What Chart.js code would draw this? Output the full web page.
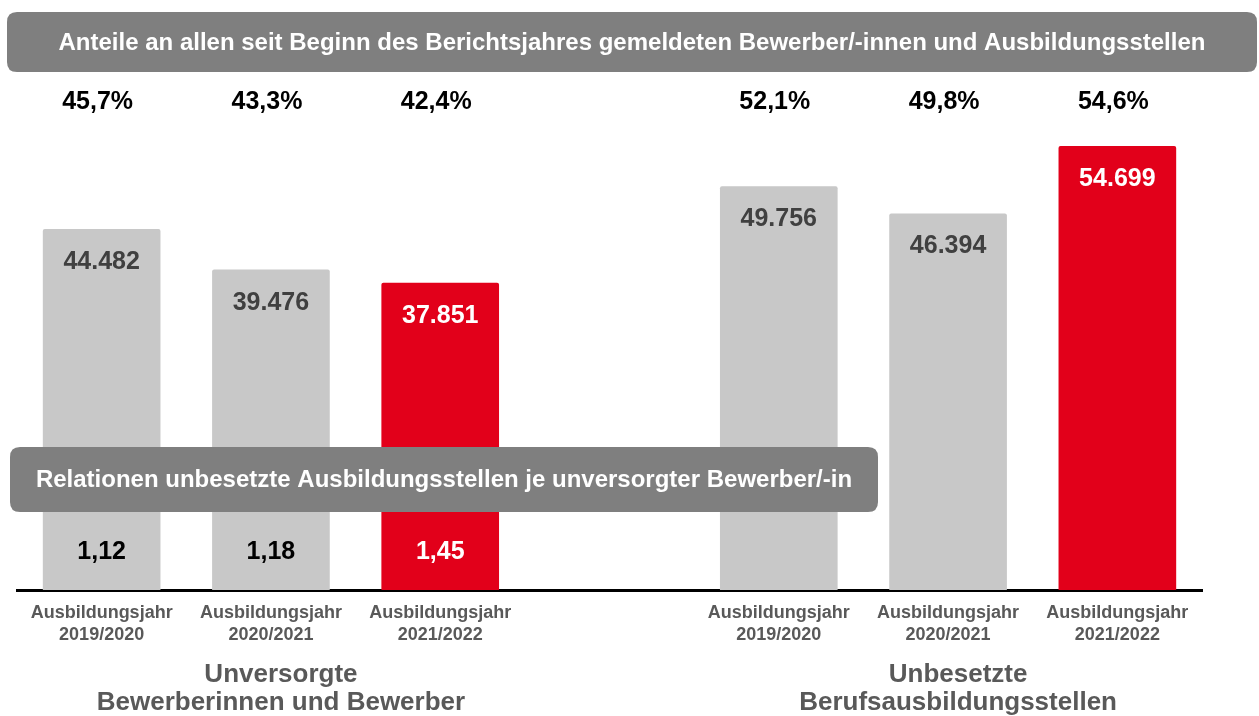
<!DOCTYPE html>
<html lang="de">
<head>
<meta charset="utf-8">
<title>Unversorgte Bewerber und unbesetzte Ausbildungsstellen</title>
<script src="https://cdn.jsdelivr.net/npm/chart.js@4.4.1/dist/chart.umd.min.js"></script>
<style>
    html, body { margin: 0; padding: 0; background: #ffffff; }
    .chart-wrapper { position: relative; width: 1259px; height: 716px; }
</style>
</head>
<body>
<div class="chart-wrapper">
    <canvas id="ausbildungChart"></canvas>
</div>
<script>
/* ==========================================================================
   Daten
   ========================================================================== */

// Kategorien (die leere Mitte trennt die beiden Gruppen)
const categories = [
    ['Ausbildungsjahr', '2019/2020'],
    ['Ausbildungsjahr', '2020/2021'],
    ['Ausbildungsjahr', '2021/2022'],
    '',
    ['Ausbildungsjahr', '2019/2020'],
    ['Ausbildungsjahr', '2020/2021'],
    ['Ausbildungsjahr', '2021/2022']
];

// Anzahl unversorgter Bewerber/-innen bzw. unbesetzter Stellen
const counts = [44482, 39476, 37851, null, 49756, 46394, 54699];

// Anteile an allen gemeldeten Bewerber/-innen bzw. Stellen
const shares = ['45,7%', '43,3%', '42,4%', null, '52,1%', '49,8%', '54,6%'];

// Relation unbesetzte Stellen je unversorgter Bewerber/-in
const ratios = ['1,12', '1,18', '1,45', null, null, null, null];

// aktuelles Jahr wird rot hervorgehoben
const highlighted = [false, false, true, false, false, false, true];

// Gruppenbeschriftungen: [Text, erster Index, letzter Index]
const groupLabels = [
    [['Unversorgte', 'Bewerberinnen und Bewerber'], 0, 2],
    [['Unbesetzte', 'Berufsausbildungsstellen'], 4, 6]
];

const topBannerText = 'Anteile an allen seit Beginn des Berichtsjahres gemeldeten Bewerber/-innen und Ausbildungsstellen';
const midBannerText = 'Relationen unbesetzte Ausbildungsstellen je unversorgter Bewerber/-in';

/* ==========================================================================
   Farben & Schrift
   ========================================================================== */

const FONT = '"Liberation Sans", Arial, sans-serif';
const GREY_BAR = '#c8c8c8';
const RED_BAR = '#e2001a';
const BANNER = '#7f7f7f';

function formatNumber(v) {
    return String(v).replace(/\B(?=(\d{3})+(?!\d))/g, '.');
}

function roundRect(ctx, x, y, w, h, r) {
    ctx.beginPath();
    ctx.moveTo(x + r, y);
    ctx.lineTo(x + w - r, y);
    ctx.quadraticCurveTo(x + w, y, x + w, y + r);
    ctx.lineTo(x + w, y + h - r);
    ctx.quadraticCurveTo(x + w, y + h, x + w - r, y + h);
    ctx.lineTo(x + r, y + h);
    ctx.quadraticCurveTo(x, y + h, x, y + h - r);
    ctx.lineTo(x, y + r);
    ctx.quadraticCurveTo(x, y, x + r, y);
    ctx.closePath();
}

function drawBanner(ctx, x, y, w, h, text, size) {
    ctx.save();
    ctx.fillStyle = BANNER;
    roundRect(ctx, x, y, w, h, 10);
    ctx.fill();
    ctx.fillStyle = '#ffffff';
    ctx.font = 'bold ' + size + 'px ' + FONT;
    ctx.textAlign = 'center';
    ctx.textBaseline = 'middle';
    ctx.fillText(text, x + w / 2, y + h / 2 + 1);
    ctx.restore();
}

/* ==========================================================================
   Beschriftungs-Plugin
   ========================================================================== */

const labelPlugin = {
    id: 'labelPlugin',
    afterDatasetsDraw(chart) {
        const ctx = chart.ctx;
        const bars = chart.getDatasetMeta(0).data;
        const base = chart.scales.y.getPixelForValue(0);

        // oberes Banner
        drawBanner(ctx, 7, 12, 1250, 60, topBannerText, 24);

        ctx.save();
        ctx.textAlign = 'center';
        ctx.textBaseline = 'alphabetic';

        // Anteile oberhalb
        ctx.font = 'bold 25px ' + FONT;
        ctx.fillStyle = '#000000';
        shares.forEach((s, i) => {
            if (s === null) return;
            ctx.fillText(s, bars[i].x - 4, 109);
        });

        // Werte in den Balken
        ctx.font = 'bold 25px ' + FONT;
        counts.forEach((v, i) => {
            if (v === null) return;
            ctx.fillStyle = highlighted[i] ? '#ffffff' : '#404040';
            ctx.fillText(formatNumber(v), bars[i].x, bars[i].y + 40);
        });
        ctx.restore();

        // mittleres Banner über den Balken
        drawBanner(ctx, 10, 447, 868, 65, midBannerText, 24);

        ctx.save();
        ctx.textAlign = 'center';
        ctx.textBaseline = 'alphabetic';
        ctx.font = 'bold 25px ' + FONT;
        ratios.forEach((r, i) => {
            if (r === null) return;
            ctx.fillStyle = highlighted[i] ? '#ffffff' : '#000000';
            ctx.fillText(r, bars[i].x, base - 31);
        });

        // Gruppenbeschriftungen unten
        ctx.font = 'bold 26px ' + FONT;
        ctx.fillStyle = '#595959';
        groupLabels.forEach(([lines, from, to]) => {
            const cx = (bars[from].x + bars[to].x) / 2 + 10;
            lines.forEach((line, k) => {
                ctx.fillText(line, cx, 682 + k * 28);
            });
        });
        ctx.restore();
    }
};

/* ==========================================================================
   Diagramm
   ========================================================================== */

document.addEventListener('DOMContentLoaded', function() {
    const ctx = document.getElementById('ausbildungChart');

    new Chart(ctx.getContext('2d'), {
        type: 'bar',
        data: {
            labels: categories,
            datasets: [{
                data: counts,
                backgroundColor: highlighted.map(h => h ? RED_BAR : GREY_BAR),
                borderRadius: { topLeft: 2, topRight: 2 },
                borderSkipped: 'bottom',
                categoryPercentage: 1.0,
                barPercentage: 0.695
            }]
        },
        options: {
            responsive: true,
            maintainAspectRatio: false,
            animation: false,
            layout: {
                padding: { top: 103, left: 17, right: 57, bottom: 0 }
            },
            plugins: {
                legend: { display: false },
                tooltip: { enabled: false }
            },
            scales: {
                y: {
                    display: false,
                    min: 0,
                    max: 60000
                },
                x: {
                    z: 1,
                    grid: { display: false, drawTicks: false },
                    border: { display: true, color: '#000000', width: 3 },
                    ticks: {
                        color: '#595959',
                        autoSkip: false,
                        maxRotation: 0,
                        padding: 13,
                        font: { family: FONT, size: 18, weight: 'bold', lineHeight: 1.17 }
                    },
                    afterFit(scale) {
                        scale.height = 126;
                    }
                }
            }
        },
        plugins: [labelPlugin]
    });
});
</script>
</body>
</html>
